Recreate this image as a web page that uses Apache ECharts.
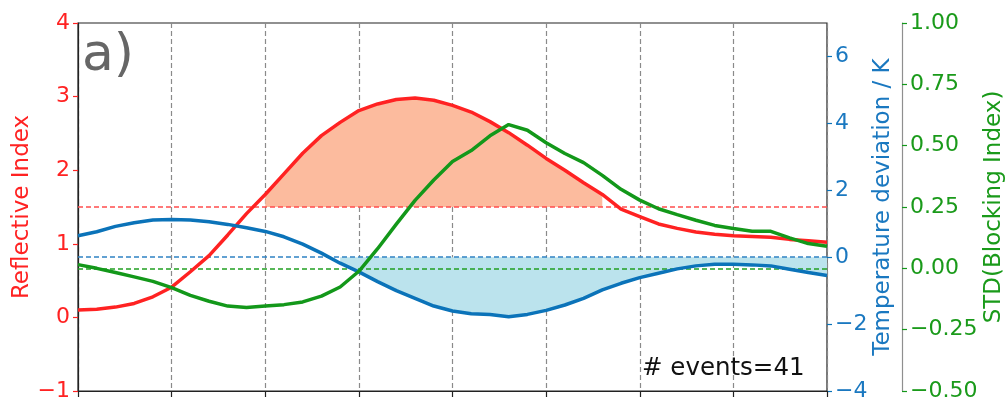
<!DOCTYPE html>
<html>
<head>
<meta charset="utf-8">
<script src="https://cdn.jsdelivr.net/npm/echarts@6/dist/echarts.min.js"></script>
<style>
html,body{margin:0;padding:0;background:#fff;}
#chart{width:1006px;height:403px;}
</style>
</head>
<body>
<div id="chart"></div>
<script>
// ---- data ----
const lags = [0,0.2,0.4,0.6,0.8,1,1.2,1.4,1.6,1.8,2,2.2,2.4,2.6,2.8,3,3.2,3.4,3.6,3.8,4,4.2,4.4,4.6,4.8,5,5.2,5.4,5.6,5.8,6,6.2,6.4,6.6,6.8,7,7.2,7.4,7.6,7.8,8];
const reflective = [0.10,0.11,0.14,0.19,0.28,0.41,0.62,0.84,1.12,1.41,1.67,1.95,2.23,2.47,2.65,2.81,2.90,2.96,2.98,2.95,2.88,2.79,2.66,2.51,2.34,2.16,2.00,1.83,1.67,1.47,1.37,1.27,1.21,1.16,1.13,1.11,1.10,1.09,1.06,1.04,1.02];
const temperature = [0.64,0.76,0.92,1.03,1.11,1.13,1.11,1.06,0.98,0.88,0.77,0.61,0.39,0.12,-0.18,-0.44,-0.73,-1.00,-1.23,-1.46,-1.61,-1.69,-1.71,-1.78,-1.71,-1.59,-1.43,-1.23,-0.98,-0.78,-0.61,-0.48,-0.35,-0.26,-0.21,-0.21,-0.23,-0.26,-0.36,-0.46,-0.55];
const blocking = [0.015,0.0,-0.017,-0.035,-0.053,-0.079,-0.11,-0.134,-0.154,-0.16,-0.154,-0.148,-0.137,-0.113,-0.076,-0.012,0.08,0.18,0.277,0.36,0.435,0.48,0.54,0.586,0.563,0.512,0.468,0.431,0.379,0.322,0.278,0.243,0.219,0.196,0.175,0.162,0.151,0.151,0.124,0.101,0.09];
const reflectiveThreshold = 1.5;
const temperatureRef = 0;
const blockingRef = 0;
const reflectiveTicks = [-1,0,1,2,3,4];
const temperatureTicks = [-4,-2,0,2,4,6];
const blockingTicks = [-0.5,-0.25,0,0.25,0.5,0.75,1.0];
const panelLabel = 'a)';
const eventsLabel = '# events=41';

// ---- styles ----
const RED = '#ff2222', BLUE = '#0b73b9', GREEN = '#13981a';
const FONT = 'DejaVu Sans';
const minus = s => String(s).replace('-', '\u2212');

const pair = (ys) => lags.map((x, i) => [x, ys[i]]);
const redFill = lags.map((x, i) => [x, reflective[i] > reflectiveThreshold ? reflective[i] : null]);
const blueFill = lags.map((x, i) => [x, temperature[i] < temperatureRef ? temperature[i] : null]);

const chart = echarts.init(document.getElementById('chart'), null, {renderer: 'canvas'});
chart.setOption({
  animation: false,
  backgroundColor: '#fff',
  textStyle: {fontFamily: FONT},
  grid: {left: 78, right: 179, top: 23, bottom: 12, containLabel: false, outerBoundsMode: 'none',
    show: true, borderColor: '#222', borderWidth: 1.2, backgroundColor: 'transparent'},
  xAxis: {
    type: 'value', min: 0, max: 8, interval: 1,
    axisLine: {show: true, onZero: false, lineStyle: {color: '#222', width: 1.2}},
    axisTick: {show: true, length: 6, lineStyle: {color: '#222', width: 1.2}},
    axisLabel: {show: false},
    splitLine: {show: true, lineStyle: {color: '#8a8a8a', type: [5, 3], width: 1.2}}
  },
  yAxis: [
    {
      type: 'value', position: 'left', min: -1, max: 4, interval: 1,
      axisLine: {show: true, onZero: false, lineStyle: {color: '#222', width: 1.2}},
      axisTick: {show: true, length: 5, customValues: reflectiveTicks, lineStyle: {color: RED, width: 1.2}},
      axisLabel: {customValues: reflectiveTicks, color: RED, fontSize: 22, fontFamily: FONT, margin: 8, formatter: v => minus(v)},
      splitLine: {show: false},
      name: 'Reflective Index', nameLocation: 'middle', nameRotate: 90, nameGap: 44, nameMoveOverlap: false,
      nameTextStyle: {color: RED, fontSize: 23, fontFamily: FONT}
    },
    {
      type: 'value', position: 'right', min: -4, max: 7, interval: 2,
      axisLine: {show: false, onZero: false},
      axisTick: {show: true, length: 5, customValues: temperatureTicks, lineStyle: {color: BLUE, width: 1.2}},
      axisLabel: {customValues: temperatureTicks, color: '#1a78c0', fontSize: 22, fontFamily: FONT, margin: 8, formatter: v => minus(v)},
      splitLine: {show: false},
      name: 'Temperature deviation / K', nameLocation: 'middle', nameRotate: 90, nameGap: 45, nameMoveOverlap: false,
      nameTextStyle: {color: '#1a78c0', fontSize: 23, fontFamily: FONT}
    },
    {
      type: 'value', position: 'right', offset: 75, min: -0.5, max: 1, interval: 0.25,
      axisLine: {show: true, onZero: false, lineStyle: {color: '#8f8f8f', width: 1.2}},
      axisTick: {show: true, length: 5, customValues: blockingTicks, lineStyle: {color: GREEN, width: 1.2}},
      axisLabel: {customValues: blockingTicks, color: '#1a9a1a', fontSize: 22, fontFamily: FONT, margin: 8, formatter: v => minus(Number(v).toFixed(2))},
      splitLine: {show: false},
      name: 'STD(Blocking Index)', nameLocation: 'middle', nameRotate: 90, nameGap: 81, nameMoveOverlap: false,
      nameTextStyle: {color: '#1a9a1a', fontSize: 23, fontFamily: FONT}
    }
  ],
  series: [
    {
      type: 'line', yAxisIndex: 0, data: redFill, symbol: 'none', connectNulls: false, z: 1,
      lineStyle: {width: 0, opacity: 0},
      areaStyle: {color: '#fcbb9e', opacity: 1, origin: reflectiveThreshold},
      silent: true
    },
    {
      type: 'line', yAxisIndex: 1, data: blueFill, symbol: 'none', connectNulls: false, z: 1,
      lineStyle: {width: 0, opacity: 0},
      areaStyle: {color: '#bbe3ed', opacity: 1, origin: temperatureRef},
      silent: true
    },
    {
      name: 'Reflective Index', type: 'line', yAxisIndex: 0, data: pair(reflective), symbol: 'none', z: 3,
      lineStyle: {color: RED, width: 3.5},
      markLine: {silent: true, symbol: 'none', label: {show: false}, z: 2,
        lineStyle: {color: '#ff4d4d', type: [5, 3], width: 1.5},
        data: [{yAxis: reflectiveThreshold}]}
    },
    {
      name: 'Temperature', type: 'line', yAxisIndex: 1, data: pair(temperature), symbol: 'none', z: 4,
      lineStyle: {color: BLUE, width: 3.5},
      markLine: {silent: true, symbol: 'none', label: {show: false}, z: 2,
        lineStyle: {color: '#2f83c4', type: [5, 3], width: 1.5},
        data: [{yAxis: temperatureRef}]}
    },
    {
      name: 'Blocking', type: 'line', yAxisIndex: 2, data: pair(blocking), symbol: 'none', z: 5,
      lineStyle: {color: GREEN, width: 3.5},
      markLine: {silent: true, symbol: 'none', label: {show: false}, z: 2,
        lineStyle: {color: '#22a022', type: [5, 3], width: 1.5},
        data: [{yAxis: blockingRef}]}
    }
  ],
  graphic: [
    {type: 'text', x: 82, y: 56, z: 10, style: {text: panelLabel, fontSize: 52, fontFamily: FONT, fill: '#666666', verticalAlign: 'middle', align: 'left'}},
    {type: 'text', x: 642, y: 369, z: 10, style: {text: eventsLabel, fontSize: 24.5, fontFamily: FONT, fill: '#111', verticalAlign: 'middle', align: 'left'}}
  ]
});
</script>
</body>
</html>
